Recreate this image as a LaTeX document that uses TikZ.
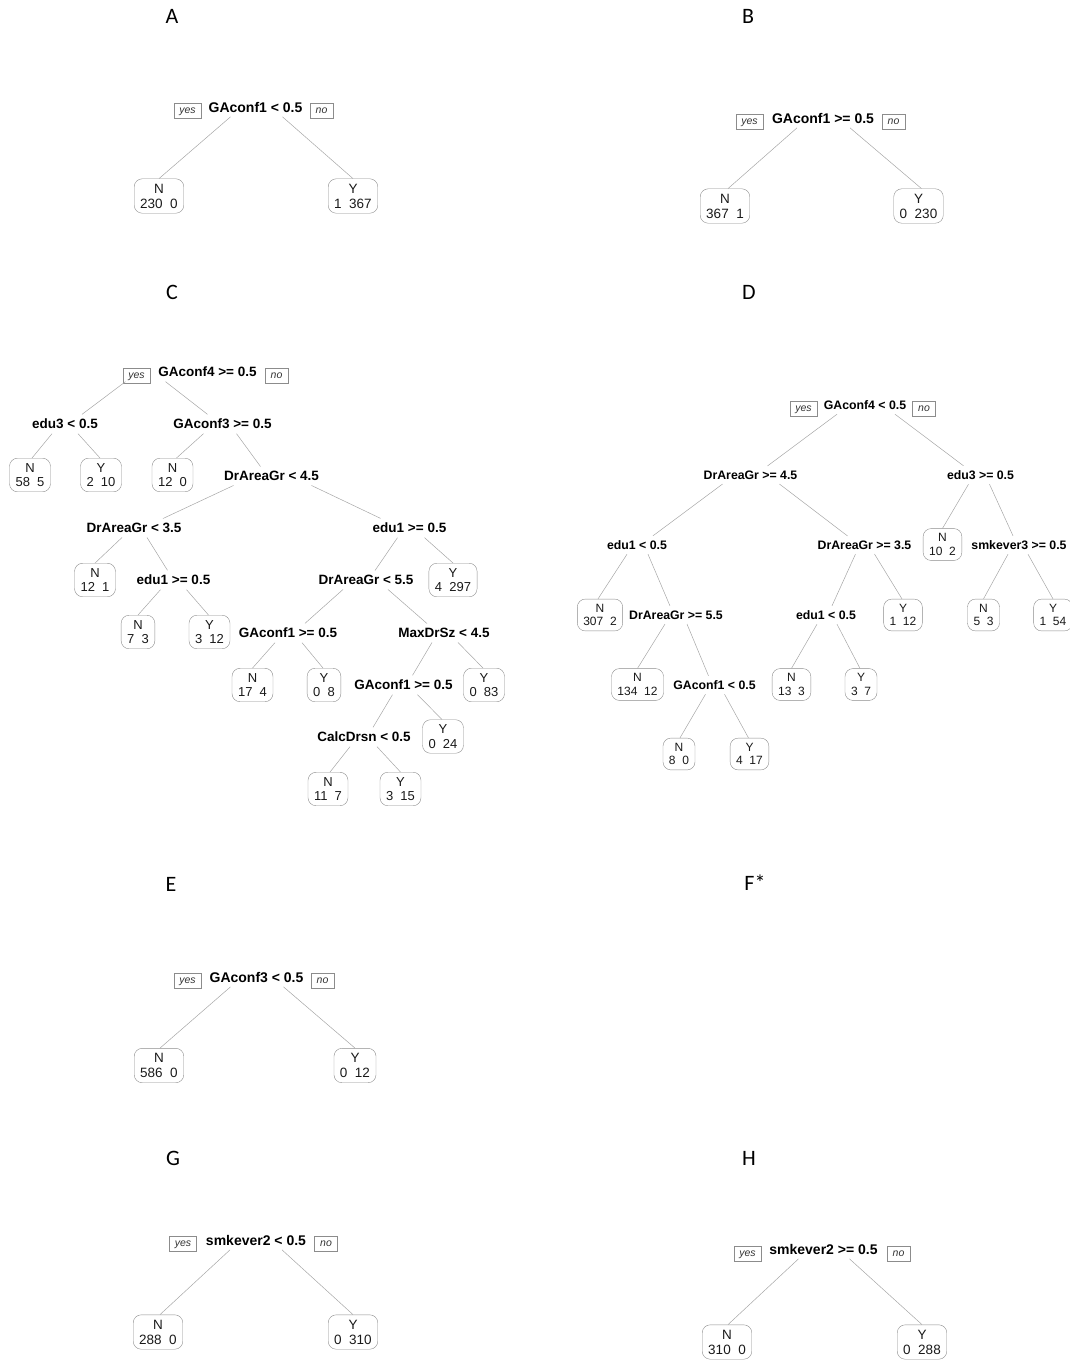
\documentclass[tikz,border=0pt]{standalone}
\usepackage{fontspec}
\setmainfont{Liberation Sans}
\newfontfamily\panelfont{Carlito}
\usepackage{xcolor}

\tikzset{
  split/.style={font=\bfseries\fontsize{14}{16}\selectfont, inner xsep=1pt, inner ysep=4.5pt},
  leaf/.style={draw=black!45, rounded corners=8pt, align=center, inner xsep=6pt, inner ysep=5pt,
    font=\fontsize{13.5}{15}\selectfont, text=black!90},
  yesno/.style={draw=black!45, font=\itshape\fontsize{10.5}{11}\selectfont, text=black!80,
    text height=7pt, text depth=2pt, inner xsep=5.5pt, inner ysep=3pt},
  br/.style={draw=black!35, line width=0.5pt},
  panel/.style={font=\panelfont\fontsize{22}{24}\selectfont},
}

\begin{document}
\begin{tikzpicture}[x=1pt, y=-1pt]
\useasboundingbox (0,0) rectangle (1069,1361);

% panel letters
\node[panel] (tA) at (172,16) {A};
\node[panel] (tB) at (748,16) {B};
\node[panel] (tC) at (172,292) {C};
\node[panel] (tD) at (749,292) {D};
\node[panel] (tE) at (171,884) {E};
\node[panel] (tF) at (755,883) {F*};
\node[panel] (tG) at (173,1158) {G};
\node[panel] (tH) at (749,1158) {H};

% A
\node[split] (aS) at (255.5,107) {GAconf1 < 0.5};
\node[yesno] (aYes) at (187.5,111) {yes};
\node[yesno] (aNo) at (321.5,111) {no};
\node[leaf] (aN) at (159,196) {N\\230~~0};
\node[leaf] (aY) at (353,196) {Y\\1~~367};
\draw[br] ([xshift=-25pt]aS.south) -- (aN.north);
\draw[br] ([xshift=27pt]aS.south) -- (aY.north);

% B
\node[split] (bS) at (823,118) {GAconf1 >= 0.5};
\node[yesno] (bYes) at (749.5,122) {yes};
\node[yesno] (bNo) at (893.5,122) {no};
\node[leaf] (bN) at (725,206) {N\\367~~1};
\node[leaf] (bY) at (918.5,206) {Y\\0~~230};
\draw[br] ([xshift=-26pt]bS.south) -- ([xshift=3pt]bN.north);
\draw[br] ([xshift=27pt]bS.south) -- ([xshift=3pt]bY.north);

% C
\begin{scope}[split/.append style={font=\bfseries\fontsize{13.5}{15}\selectfont},
              leaf/.append style={font=\fontsize{13}{14.5}\selectfont}]
\node[split] (cR) at (207.5,372) {GAconf4 >= 0.5};
\node[yesno] (cYes) at (136.5,376) {yes};
\node[yesno] (cNo) at (276.5,376) {no};
\node[split] (c1) at (65,424) {edu3 < 0.5};
\node[split] (c2) at (222.5,424) {GAconf3 >= 0.5};
\node[leaf] (cL1) at (30,475) {N\\58~~5};
\node[leaf] (cL2) at (101,475) {Y\\2~~10};
\node[leaf] (cL3) at (172.5,475) {N\\12~~0};
\node[split] (c3) at (271.5,476) {DrAreaGr < 4.5};
\node[split] (c4) at (134,528) {DrAreaGr < 3.5};
\node[split] (c5) at (409.5,528) {edu1 >= 0.5};
\node[leaf] (cL4) at (95,580) {N\\12~~1};
\node[split] (c6) at (173.5,580) {edu1 >= 0.5};
\node[split] (c7) at (366,580) {DrAreaGr < 5.5};
\node[leaf] (cL5) at (453,580) {Y\\4~~297};
\node[leaf] (cL6) at (138,632) {N\\7~~3};
\node[leaf] (cL7) at (209.5,632) {Y\\3~~12};
\node[split] (c8) at (288,633) {GAconf1 >= 0.5};
\node[split] (c9) at (444,633) {MaxDrSz < 4.5};
\node[leaf] (cL8) at (252.5,685) {N\\17~~4};
\node[leaf] (cL9) at (324,685) {Y\\0~~8};
\node[split] (c10) at (403.5,685) {GAconf1 >= 0.5};
\node[leaf] (cL10) at (484,685) {Y\\0~~83};
\node[split] (c11) at (364,737) {CalcDrsn < 0.5};
\node[leaf] (cL11) at (443,736.5) {Y\\0~~24};
\node[leaf] (cL12) at (328,789) {N\\11~~7};
\node[leaf] (cL13) at (400.5,789) {Y\\3~~15};
% branches
\draw[br] ([xshift=-82pt]cR.south) -- ([xshift=17pt]c1.north);
\draw[br] ([xshift=-42pt]cR.south) -- ([xshift=-15pt]c2.north);
\draw[br] ([xshift=-13pt]c1.south) -- ([xshift=2pt]cL1.north);
\draw[br] ([xshift=13pt]c1.south) -- ([xshift=-1pt]cL2.north);
\draw[br] ([xshift=-19pt]c2.south) -- ([xshift=4pt]cL3.north);
\draw[br] ([xshift=14pt]c2.south) -- ([xshift=-11pt]c3.north);
\draw[br] ([xshift=-38pt]c3.south) -- ([xshift=29pt]c4.north);
\draw[br] ([xshift=40pt]c3.south) -- ([xshift=-29pt]c5.north);
\draw[br] ([xshift=-12pt]c4.south) -- (cL4.north);
\draw[br] ([xshift=13pt]c4.south) -- ([xshift=-6pt]c6.north);
\draw[br] ([xshift=-12pt]c5.south) -- ([xshift=9pt]c7.north);
\draw[br] ([xshift=15pt]c5.south) -- (cL5.north);
\draw[br] ([xshift=-13pt]c6.south) -- (cL6.north);
\draw[br] ([xshift=13pt]c6.south) -- ([xshift=-1pt]cL7.north);
\draw[br] ([xshift=-23pt]c7.south) -- ([xshift=17pt]c8.north);
\draw[br] ([xshift=22pt]c7.south) -- ([xshift=-17pt]c9.north);
\draw[br] ([xshift=-13pt]c8.south) -- (cL8.north);
\draw[br] ([xshift=14pt]c8.south) -- ([xshift=-1pt]cL9.north);
\draw[br] ([xshift=-12pt]c9.south) -- ([xshift=9pt]c10.north);
\draw[br] ([xshift=14pt]c9.south) -- ([xshift=-1pt]cL10.north);
\draw[br] ([xshift=-11pt]c10.south) -- ([xshift=9pt]c11.north);
\draw[br] ([xshift=14pt]c10.south) -- ([xshift=-1pt]cL11.north);
\draw[br] ([xshift=-14pt]c11.south) -- ([xshift=2pt]cL12.north);
\draw[br] ([xshift=13pt]c11.south) -- (cL13.north);
\end{scope}

% D
\begin{scope}[split/.append style={font=\bfseries\fontsize{12.3}{14}\selectfont},
              leaf/.append style={font=\fontsize{12}{13.5}\selectfont}]
\node[split] (dR) at (865,405) {GAconf4 < 0.5};
\node[yesno] (dYes) at (803.5,409) {yes};
\node[yesno] (dNo) at (924,409) {no};
\node[split] (d1) at (750.5,475) {DrAreaGr >= 4.5};
\node[split] (d2) at (980.5,475) {edu3 >= 0.5};
\node[split] (d3) at (637,545) {edu1 < 0.5};
\node[split] (d4) at (864.5,545) {DrAreaGr >= 3.5};
\node[leaf] (dL1) at (942.5,544.5) {N\\10~~2};
\node[split] (d5) at (1019,545) {smkever3 >= 0.5};
\node[leaf] (dL2) at (600,615) {N\\307~~2};
\node[split] (d6) at (676,615) {DrAreaGr >= 5.5};
\node[split] (d7) at (826,615) {edu1 < 0.5};
\node[leaf] (dL3) at (903,615) {Y\\1~~12};
\node[leaf] (dL4) at (983.5,615) {N\\5~~3};
\node[leaf] (dL5) at (1053,615) {Y\\1~~54};
\node[leaf] (dL6) at (637.5,684.5) {N\\134~~12};
\node[split] (d8) at (714.5,685) {GAconf1 < 0.5};
\node[leaf] (dL7) at (791.5,684.5) {N\\13~~3};
\node[leaf] (dL8) at (861,684.5) {Y\\3~~7};
\node[leaf] (dL9) at (679,754) {N\\8~~0};
\node[leaf] (dL10) at (749.5,754) {Y\\4~~17};
% branches
\draw[br] ([xshift=-28pt]dR.south) -- ([xshift=17pt]d1.north);
\draw[br] ([xshift=30pt]dR.south) -- ([xshift=-17pt]d2.north);
\draw[br] ([xshift=-28pt]d1.south) -- ([xshift=16pt]d3.north);
\draw[br] ([xshift=29pt]d1.south) -- ([xshift=-17pt]d4.north);
\draw[br] ([xshift=-12pt]d2.south) -- (dL1.north);
\draw[br] ([xshift=9pt]d2.south) -- ([xshift=-6pt]d5.north);
\draw[br] ([xshift=-10pt]d3.south) -- ([xshift=-2pt]dL2.north);
\draw[br] ([xshift=11pt]d3.south) -- ([xshift=-6pt]d6.north);
\draw[br] ([xshift=-9pt]d4.south) -- ([xshift=6pt]d7.north);
\draw[br] ([xshift=10pt]d4.south) -- ([xshift=-1pt]dL3.north);
\draw[br] ([xshift=-11pt]d5.south) -- (dL4.north);
\draw[br] ([xshift=9pt]d5.south) -- (dL5.north);
\draw[br] ([xshift=-11pt]d6.south) -- (dL6.north);
\draw[br] ([xshift=11pt]d6.south) -- ([xshift=-6pt]d8.north);
\draw[br] ([xshift=-9pt]d7.south) -- (dL7.north);
\draw[br] ([xshift=11pt]d7.south) -- ([xshift=-1pt]dL8.north);
\draw[br] ([xshift=-9pt]d8.south) -- ([xshift=1pt]dL9.north);
\draw[br] ([xshift=10pt]d8.south) -- ([xshift=-1pt]dL10.north);
\end{scope}

% E
\node[split] (eS) at (256.5,977) {GAconf3 < 0.5};
\node[yesno] (eYes) at (187.5,981) {yes};
\node[yesno] (eNo) at (322.5,981) {no};
\node[leaf] (eN) at (159,1065.5) {N\\586~~0};
\node[leaf] (eY) at (355,1065.5) {Y\\0~~12};
\draw[br] ([xshift=-26pt]eS.south) -- ([xshift=1pt]eN.north);
\draw[br] ([xshift=27pt]eS.south) -- (eY.north);

% G
\node[split] (gS) at (256,1240) {smkever2 < 0.5};
\node[yesno] (gYes) at (183,1244) {yes};
\node[yesno] (gNo) at (326,1244) {no};
\node[leaf] (gN) at (158,1332) {N\\288~~0};
\node[leaf] (gY) at (353,1332) {Y\\0~~310};
\draw[br] ([xshift=-26pt]gS.south) -- ([xshift=2pt]gN.north);
\draw[br] ([xshift=26pt]gS.south) -- (gY.north);

% H
\node[split] (hS) at (823.5,1249) {smkever2 >= 0.5};
\node[yesno] (hYes) at (747.5,1254) {yes};
\node[yesno] (hNo) at (898.5,1254) {no};
\node[leaf] (hN) at (727,1342) {N\\310~~0};
\node[leaf] (hY) at (922,1342) {Y\\0~~288};
\draw[br] ([xshift=-25pt]hS.south) -- ([xshift=1pt]hN.north);
\draw[br] ([xshift=26pt]hS.south) -- (hY.north);
\end{tikzpicture}
\end{document}
